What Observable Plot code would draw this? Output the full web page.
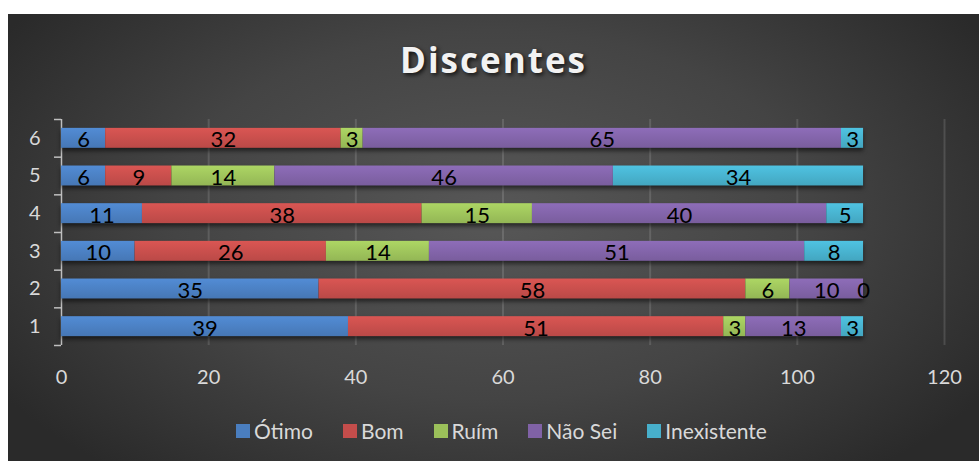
<!DOCTYPE html>
<html>
<head>
<meta charset="utf-8">
<script src="https://cdn.jsdelivr.net/npm/d3@7"></script>
<script src="https://cdn.jsdelivr.net/npm/@observablehq/plot@0.6"></script>
<style>
  html, body { margin: 0; padding: 0; background: #ffffff; }
  #card {
    position: absolute; left: 8px; top: 14px; width: 971px; height: 447px;
    background: radial-gradient(ellipse 60% 75% at 50% 45%, #575757 0%, #444444 55%, #2a2a2a 100%);
    overflow: hidden;
    font-family: Lato, "Open Sans", sans-serif;
  }
  #title {
    position: absolute; left: 0; width: 100%; top: 22px; text-align: center;
    font-family: "Open Sans", Lato, sans-serif; font-weight: 700; font-size: 35px;
    letter-spacing: 2px; color: #f2f2f2;
    text-shadow: 2px 2px 4px rgba(0,0,0,0.75);
  }
  #chart { position: absolute; left: 0; top: 86px; }
  #legend {
    position: absolute; left: 0; width: 100%; top: 404px; display: flex;
    justify-content: center; gap: 30px; color: #d9d9d9; font-size: 21px; padding-left: 8px;
  }
  #legend .item { display: flex; align-items: center; }
  #legend .sw { width: 14px; height: 14px; margin-right: 4px; }
  g[aria-label="rect"] { filter: drop-shadow(0px 3px 2px rgba(0,0,0,0.55)); }
</style>
</head>
<body>
<div id="card">
  <div id="title">Discentes</div>
  <div id="chart"></div>
  <div id="legend"></div>
</div>
<script>
const categories = [1, 2, 3, 4, 5, 6];
const series = ["Ótimo", "Bom", "Ruím", "Não Sei", "Inexistente"];
const colors = ["#4a7ebf", "#c44d4b", "#9bc05a", "#8062a6", "#47afcb"];
const otimo       = [39, 35, 10, 11, 6, 6];
const bom         = [51, 58, 26, 38, 9, 32];
const ruim        = [3, 6, 14, 15, 14, 3];
const naoSei      = [13, 10, 51, 40, 46, 65];
const inexistente = [3, 0, 8, 5, 34, 3];
const xTicks = [0, 20, 40, 60, 80, 100, 120];

const seriesValues = [otimo, bom, ruim, naoSei, inexistente];
const data = [];
categories.forEach((c, i) => {
  series.forEach((s, j) => {
    data.push({cat: c, series: s, value: seriesValues[j][i]});
  });
});

const half = 0.265;
const gradIds = series.map((s, i) => "grad" + i);

const chart = Plot.plot({
  width: 971,
  height: 300,
  marginLeft: 53,
  marginRight: 35,
  marginTop: 19,
  marginBottom: 55,
  style: {background: "transparent", color: "#d9d9d9", fontFamily: "Lato, 'Open Sans', sans-serif", fontSize: "20px"},
  x: {domain: [0, 120], ticks: xTicks, label: null},
  y: {domain: [0.5, 6.5], label: null},
  color: {domain: series, range: gradIds.map(id => `url(#${id})`)},
  marks: [
    Plot.ruleX(xTicks.filter(d => d > 0), {stroke: "#ffffff", strokeOpacity: 0.13, strokeWidth: 2}),
    Plot.axisX({ticks: xTicks, tickSize: 0, tickPadding: 24, fontSize: 20, fill: "#d9d9d9", label: null}),
    Plot.axisY({ticks: categories, tickSize: 0, tickPadding: 21, fontSize: 20, fill: "#d9d9d9", tickFormat: d => String(d), label: null}),
    Plot.axisY({ticks: d3.range(0.5, 7, 1), tickSize: 7, tickFormat: () => "", stroke: "#bfbfbf", strokeWidth: 1.5, label: null}),
    Plot.ruleX([0], {stroke: "#bfbfbf", strokeWidth: 1.5}),
    Plot.rectX(data, Plot.stackX({
      x: "value", y: "cat", z: "series",
      y1: d => d.cat - half, y2: d => d.cat + half,
      fill: "series"
    })),
    Plot.textX(data, Plot.stackX({
      x: "value", y: "cat", z: "series", text: d => String(d.value),
      fill: "#000000", fontSize: 22, dy: 2
    }))
  ]
});

// gradient definitions for the bars
const svg = d3.select(chart);
const defs = svg.insert("defs", ":first-child");
colors.forEach((c, i) => {
  const g = defs.append("linearGradient").attr("id", gradIds[i])
    .attr("x1", 0).attr("y1", 0).attr("x2", 0).attr("y2", 1);
  g.append("stop").attr("offset", "0%").attr("stop-color", d3.color(c).brighter(0.3).formatHex());
  g.append("stop").attr("offset", "100%").attr("stop-color", d3.color(c).darker(0.15).formatHex());
});

document.getElementById("chart").appendChild(chart);

const legend = document.getElementById("legend");
series.forEach((s, i) => {
  const item = document.createElement("div");
  item.className = "item";
  const sw = document.createElement("div");
  sw.className = "sw";
  sw.style.background = colors[i];
  const t = document.createElement("span");
  t.textContent = s;
  item.appendChild(sw);
  item.appendChild(t);
  legend.appendChild(item);
});
</script>
</body>
</html>
